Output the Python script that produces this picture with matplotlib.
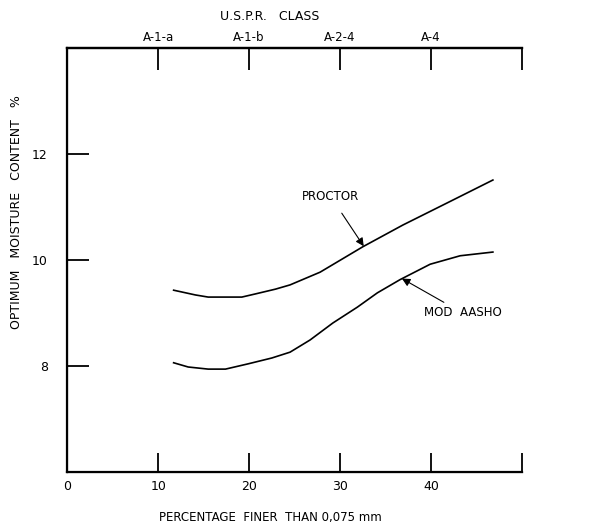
import numpy as np
import matplotlib.pyplot as plt

# values
proctor_x = [11.7, 14.1, 15.5, 19.2, 20.7, 22.9, 24.5, 27.8, 32.5, 36.9, 41.8, 46.8]
proctor_y = [9.43, 9.34, 9.30, 9.30, 9.36, 9.45, 9.53, 9.77, 10.25, 10.66, 11.08, 11.51]

aasho_x = [11.7, 13.3, 15.5, 17.4, 19.9, 22.5, 24.5, 26.7, 29.2, 31.9, 34.1, 36.6, 39.9, 43.2, 46.8]
aasho_y = [8.06, 7.98, 7.94, 7.94, 8.04, 8.15, 8.26, 8.49, 8.81, 9.11, 9.38, 9.63, 9.92, 10.08, 10.15]

bottom_ticks = [0, 10, 20, 30, 40, 50]
bottom_labels = ['0', '10', '20', '30', '40', '']
top_ticks = [10, 20, 30, 40, 50]
top_labels = ['A-1-a', 'A-1-b', 'A-2-4', 'A-4', '']
y_ticks = [8, 10, 12]

fig = plt.figure(figsize=(6, 5.29), dpi=100)
ax = fig.add_axes([0.112, 0.108, 0.758, 0.801])

ax.plot(proctor_x, proctor_y, color='black', lw=1.2, solid_joinstyle='round')
ax.plot(aasho_x, aasho_y, color='black', lw=1.2, solid_joinstyle='round')

ax.set_xlim(0, 50)
ax.set_ylim(6, 14)

for s in ['left', 'bottom', 'top']:
    ax.spines[s].set_linewidth(1.6)
ax.spines['right'].set_visible(False)

ax.set_xticks(bottom_ticks)
ax.set_xticklabels(bottom_labels, fontsize=9)
ax.set_yticks(y_ticks)
ax.set_yticklabels([str(v) for v in y_ticks], fontsize=9)
ax.tick_params(axis='x', direction='in', length=14, width=1.3, pad=6)
ax.tick_params(axis='y', direction='in', length=16, width=1.3, pad=14)

ax2 = ax.twiny()
ax2.set_xlim(0, 50)
ax2.set_xticks(top_ticks)
ax2.set_xticklabels(top_labels, fontsize=8.5)
ax2.tick_params(axis='x', direction='in', length=16, width=1.3, pad=3)
ax2.spines['right'].set_visible(False)
ax2.spines['top'].set_linewidth(1.6)

ax.annotate('PROCTOR', xy=(32.6, 10.26), xytext=(29.0, 11.19),
            ha='center', va='center', fontsize=8.5,
            arrowprops=dict(arrowstyle='-|>', color='black', lw=0.8,
                            mutation_scale=12, shrinkA=6, shrinkB=0))
ax.annotate('MOD  AASHO', xy=(36.8, 9.65), xytext=(39.2, 9.0),
            ha='left', va='center', fontsize=8.5,
            arrowprops=dict(arrowstyle='-|>', color='black', lw=0.8,
                            mutation_scale=12, shrinkA=2, shrinkB=0))

fig.text(0.45, 0.968, 'U.S.P.R.   CLASS', ha='center', va='center', fontsize=9)
fig.text(0.45, 0.022, 'PERCENTAGE  FINER  THAN 0,075 mm', ha='center',
         va='center', fontsize=8.5)
fig.text(0.027, 0.60, 'OPTIMUM   MOISTURE   CONTENT   %', rotation=90,
         ha='center', va='center', fontsize=9)

fig.savefig('out.png', dpi=100)
